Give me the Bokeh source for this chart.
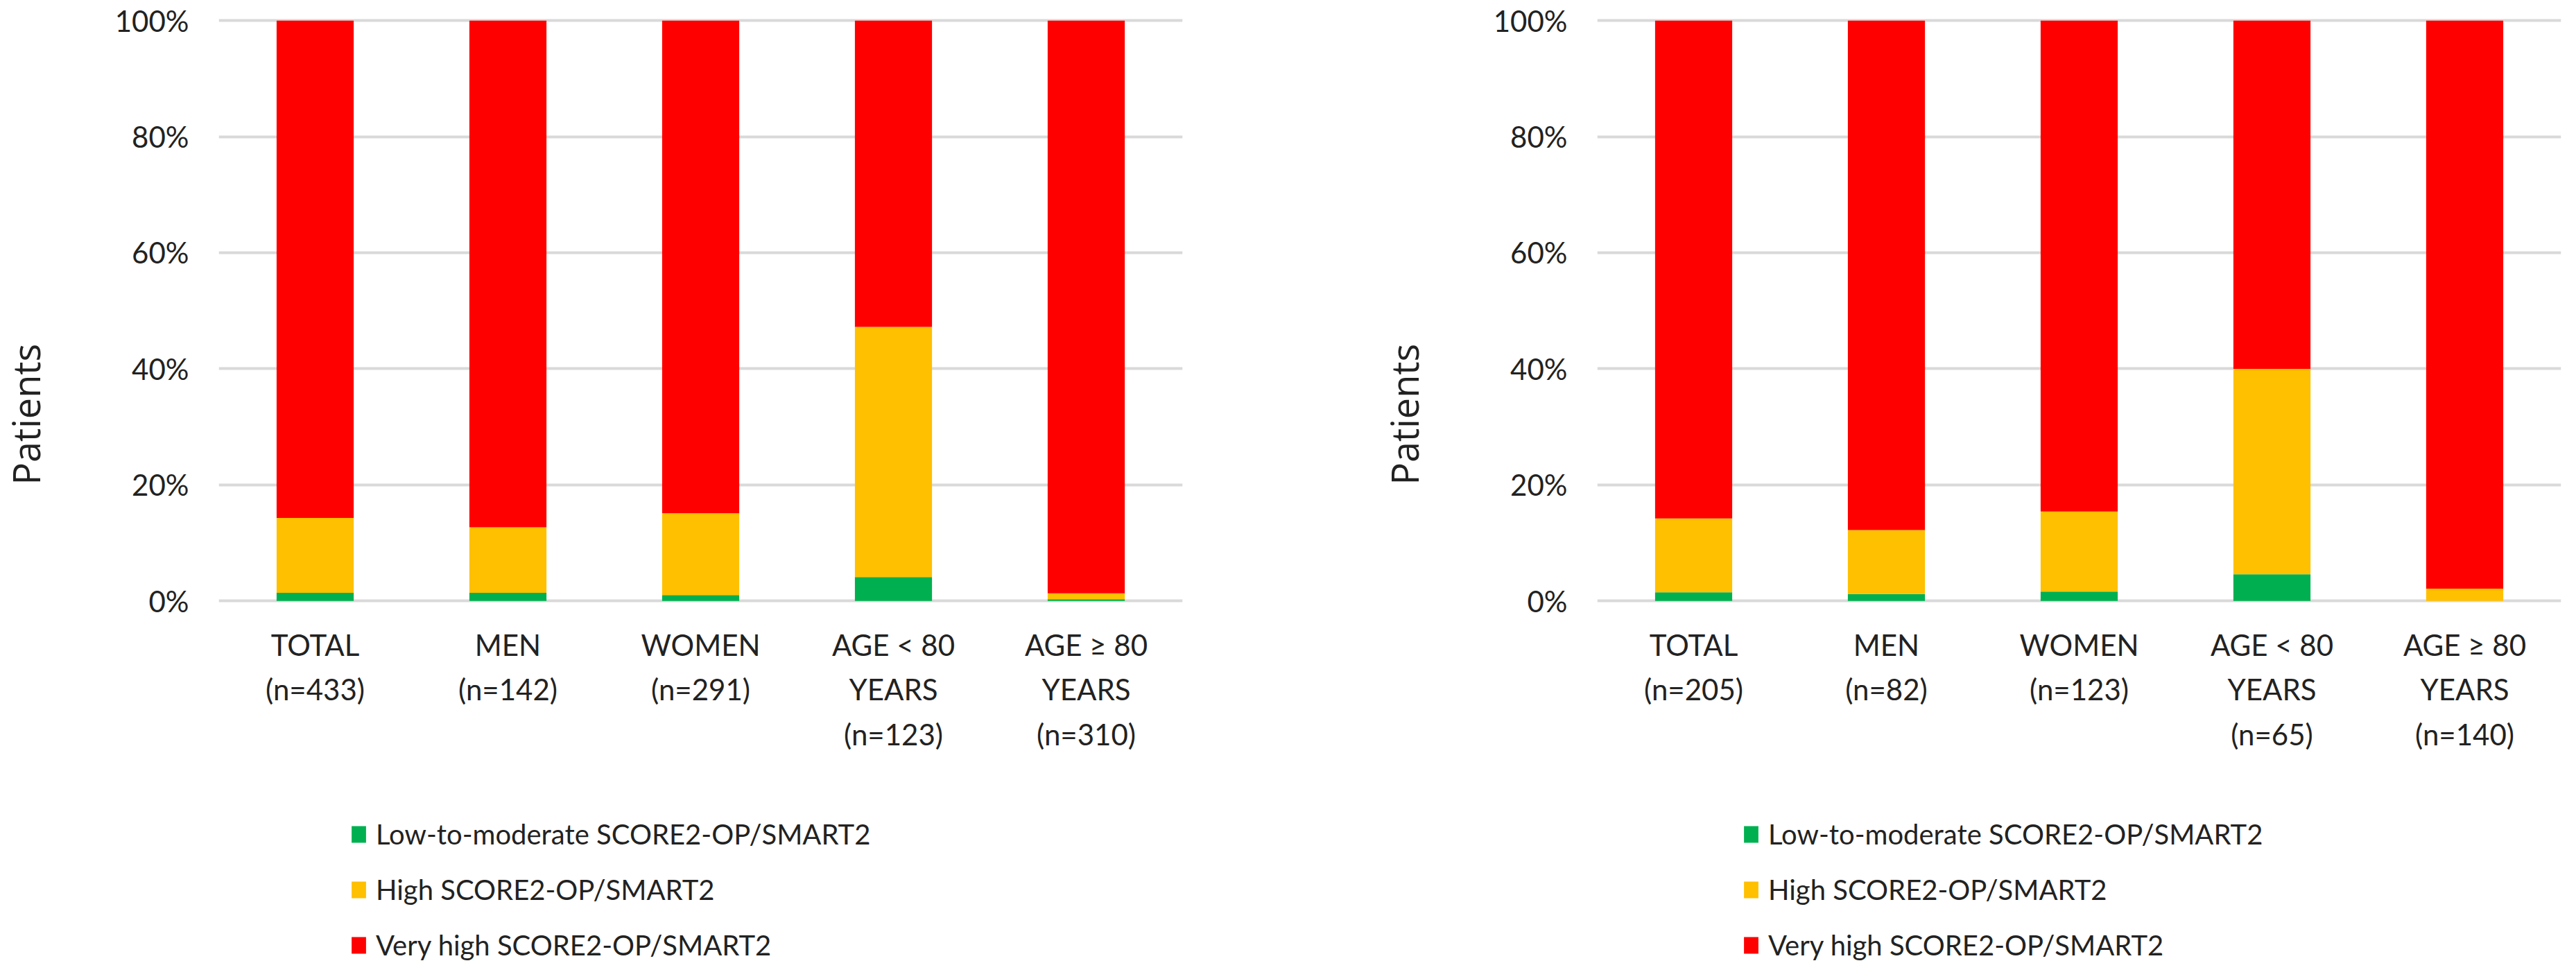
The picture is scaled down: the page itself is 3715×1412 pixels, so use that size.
import math
from bokeh.plotting import figure
from bokeh.models import (FactorRange, Range1d, Legend, LegendItem, Label,
                          ColumnDataSource, NumeralTickFormatter, FixedTicker)
from bokeh.core.properties import value
from bokeh.layouts import row
from bokeh.embed import file_html
from bokeh.resources import INLINE

# ---------------- data ----------------
left_labels = ["TOTAL\n(n=433)", "MEN\n(n=142)", "WOMEN\n(n=291)",
               "AGE < 80\nYEARS\n(n=123)", "AGE ≥ 80\nYEARS\n(n=310)"]
right_labels = ["TOTAL\n(n=205)", "MEN\n(n=82)", "WOMEN\n(n=123)",
                "AGE < 80\nYEARS\n(n=65)", "AGE ≥ 80\nYEARS\n(n=140)"]

# percentages of patients
left_low = [1.4, 1.4, 1.0, 4.1, 0.3]
left_high = [12.9, 11.3, 14.1, 43.1, 1.0]
left_very = [85.7, 87.3, 84.9, 52.8, 98.7]

right_low = [1.5, 1.2, 1.6, 4.6, 0.0]
right_high = [12.7, 11.0, 13.8, 35.4, 2.1]
right_very = [85.8, 87.8, 84.6, 60.0, 97.9]

series_names = ["Low-to-moderate SCORE2-OP/SMART2",
                "High SCORE2-OP/SMART2",
                "Very high SCORE2-OP/SMART2"]
series_colors = ["#00B050", "#FFC000", "#FF0000"]

y_ticks = [0, 0.2, 0.4, 0.6, 0.8, 1.0]

# ---------------- layout constants (pixels) ----------------
FONT = "Lato"
TXT = "#222222"
FIG_H = 1396
TOP = 25             # frame top inside the figure
PX_PER_UNIT = 837.0  # pixels for 100 %
Y_TOP = 1.005
FRAME_H = FIG_H - TOP
Y_BOTTOM = Y_TOP - FRAME_H / PX_PER_UNIT
LABEL_Y = -38.0 / PX_PER_UNIT   # top of the category labels
TITLE_X = -52                   # baseline of the rotated "Patients" (panel units)
TITLE_Y = 697                   # distance of its start above the figure bottom


def make_chart(labels, low, high, very, width, border_right, legend_x):
    src = ColumnDataSource(dict(
        cat=labels,
        low=[v / 100 for v in low],
        high=[v / 100 for v in high],
        very=[v / 100 for v in very],
        ly=[LABEL_Y] * len(labels),
    ))
    p = figure(x_range=FactorRange(*labels, range_padding=0),
               y_range=Range1d(Y_BOTTOM, Y_TOP),
               width=width, height=FIG_H,
               min_border_left=315, min_border_right=border_right,
               min_border_top=TOP, min_border_bottom=0,
               output_backend="svg", toolbar_location=None)
    p.outline_line_color = None
    p.background_fill_color = "white"
    p.border_fill_color = "white"

    rs = p.vbar_stack(["low", "high", "very"], x="cat", width=0.4,
                      color=series_colors, line_color=None, source=src)

    # category labels
    p.text(x="cat", y="ly", text="cat", source=src,
           text_align="center", text_baseline="top",
           text_font=value(FONT), text_font_size="42px",
           text_line_height=1.29, text_color=TXT)

    # grid
    p.xgrid.grid_line_color = None
    p.ygrid.ticker = FixedTicker(ticks=y_ticks)
    p.ygrid.grid_line_color = "#D9D9D9"
    p.ygrid.grid_line_width = 4
    p.ygrid.level = "underlay"

    # y axis
    p.yaxis.ticker = FixedTicker(ticks=y_ticks)
    p.yaxis.formatter = NumeralTickFormatter(format="0%")
    p.yaxis.axis_line_color = None
    p.yaxis.major_tick_line_color = None
    p.yaxis.minor_tick_line_color = None
    p.yaxis.major_tick_out = 0
    p.yaxis.major_tick_in = 0
    p.yaxis.major_label_standoff = 43
    p.yaxis.major_label_text_font = FONT
    p.yaxis.major_label_text_font_size = "42px"
    p.yaxis.major_label_text_color = TXT

    p.xaxis.visible = False

    # y axis title (in the left side panel)
    p.add_layout(Label(x=TITLE_X, y=TITLE_Y,
                       x_units="screen", y_units="screen",
                       text="Patients", angle=math.pi / 2,
                       text_align="left", text_baseline="alphabetic",
                       text_font="Open Sans", text_font_size="54px",
                       text_color=TXT), "left")

    # legend inside the (extended) frame
    items = [LegendItem(label=series_names[i], renderers=[rs[i]]) for i in range(3)]
    legend = Legend(items=items, location=(legend_x, 9),
                    orientation="vertical",
                    glyph_width=26, glyph_height=30, label_height=48,
                    label_standoff=12, spacing=32, padding=0, margin=0,
                    border_line_color=None, background_fill_alpha=0,
                    label_text_font=FONT, label_text_font_size="40px",
                    label_text_color=TXT)
    p.add_layout(legend)
    return p


p1 = make_chart(left_labels, left_low, left_high, left_very,
                width=1988, border_right=283, legend_x=189)
p2 = make_chart(right_labels, right_low, right_high, right_very,
                width=1711, border_right=6, legend_x=209)

layout = row(p1, p2)
open("out.html", "w").write(file_html(layout, INLINE))
